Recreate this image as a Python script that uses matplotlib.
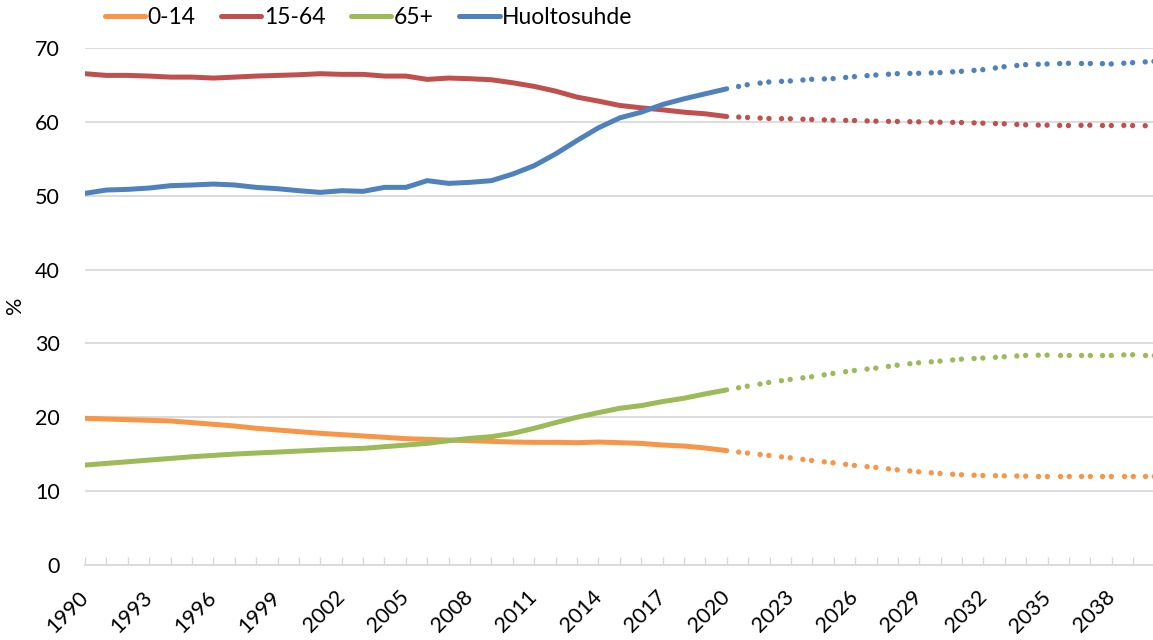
import matplotlib
matplotlib.use("Agg")
import matplotlib.pyplot as plt
from matplotlib.lines import Line2D

plt.rcParams['font.family'] = ['Lato', 'DejaVu Sans']
plt.rcParams['lines.scale_dashes'] = False

# ---- data ----
years_hist = list(range(1990, 2021))
years_proj = list(range(2020, 2041))

age_0_14_hist = [19.86, 19.77, 19.68, 19.59, 19.50, 19.28, 19.05, 18.82, 18.51, 18.28,
                 18.05, 17.83, 17.65, 17.47, 17.29, 17.10, 17.01, 16.92, 16.83, 16.74,
                 16.65, 16.61, 16.61, 16.56, 16.65, 16.56, 16.47, 16.24, 16.11, 15.84, 15.48]
age_15_64_hist = [66.52, 66.29, 66.29, 66.20, 66.06, 66.06, 65.93, 66.06, 66.20, 66.29,
                  66.38, 66.52, 66.43, 66.43, 66.20, 66.20, 65.75, 65.93, 65.84, 65.70,
                  65.29, 64.80, 64.16, 63.35, 62.81, 62.22, 61.90, 61.63, 61.31, 61.09, 60.72]
age_65_hist = [13.53, 13.76, 13.98, 14.21, 14.43, 14.66, 14.84, 15.02, 15.16, 15.29,
               15.43, 15.57, 15.70, 15.79, 16.02, 16.24, 16.47, 16.83, 17.15, 17.38,
               17.83, 18.51, 19.28, 20.00, 20.63, 21.22, 21.58, 22.13, 22.58, 23.17, 23.71]
huolto_hist = [50.32, 50.77, 50.86, 51.04, 51.36, 51.45, 51.58, 51.45, 51.13, 50.95,
               50.68, 50.45, 50.68, 50.59, 51.13, 51.13, 52.04, 51.67, 51.81, 52.04,
               52.94, 54.07, 55.66, 57.47, 59.19, 60.54, 61.31, 62.35, 63.12, 63.80, 64.48]

age_0_14_proj = [15.48, 15.14, 14.82, 14.50, 14.14, 13.83, 13.47, 13.20, 12.88, 12.61,
                 12.39, 12.21, 12.12, 12.07, 12.03, 12.03, 12.03, 12.03, 12.03, 12.03, 12.03]
age_15_64_proj = [60.72, 60.59, 60.45, 60.41, 60.32, 60.23, 60.18, 60.09, 60.05, 60.00,
                  59.95, 59.91, 59.82, 59.73, 59.59, 59.55, 59.50, 59.55, 59.55, 59.50, 59.46]
age_65_proj = [23.71, 24.23, 24.73, 25.14, 25.50, 25.95, 26.35, 26.67, 27.07, 27.39,
               27.61, 27.88, 28.02, 28.20, 28.38, 28.42, 28.42, 28.42, 28.42, 28.47, 28.47]
huolto_proj = [64.48, 65.05, 65.41, 65.54, 65.77, 65.86, 66.13, 66.35, 66.53, 66.58,
               66.67, 66.85, 67.07, 67.48, 67.75, 67.84, 67.93, 67.93, 67.84, 68.02, 68.20]

series_names = ['0-14', '15-64', '65+', 'Huoltosuhde']
series_colors = ['#F79646', '#C0504D', '#9BBB59', '#4F81BD']
hist_values = [age_0_14_hist, age_15_64_hist, age_65_hist, huolto_hist]
proj_values = [age_0_14_proj, age_15_64_proj, age_65_proj, huolto_proj]

y_ticks = [0, 10, 20, 30, 40, 50, 60, 70]
label_years = list(range(1990, 2041, 3))

# ---- figure ----
W, H = 1153, 640
fig = plt.figure(figsize=(W / 100, H / 100), dpi=100)
left_px, right_px, top_px, bottom_px = 85, 1154.6, 48, 565
ax = fig.add_axes([left_px / W, 1 - bottom_px / H, (right_px - left_px) / W, (bottom_px - top_px) / H])

lw = 3.6
# dotted pattern restarting per segment (two dots per year)
dot_on, gap1, gap2 = 0.01, 6.33, 30.0
period = dot_on * 2 + gap1 + gap2
dash_style = (period - 8.64, (dot_on, gap1, dot_on, gap2))

handles = []
for name, col, hv, pv in zip(series_names, series_colors, hist_values, proj_values):
    ax.plot(years_hist, hv, color=col, lw=lw, solid_capstyle='round',
            solid_joinstyle='round', label=name, zorder=3)
    handles.append(Line2D([0], [0], color=col, lw=lw, solid_capstyle='round'))
    for i in range(len(years_proj) - 1):
        ax.plot(years_proj[i:i + 2], pv[i:i + 2], color=col, lw=lw + 0.3,
                linestyle=dash_style, dash_capstyle='round', zorder=3)

ax.set_xlim(1990, 2040)
ax.set_ylim(0, 70)
ax.set_yticks(y_ticks)
ax.set_yticklabels([str(v) for v in y_ticks], fontsize=15.5)
ax.tick_params(axis='y', length=0, pad=18)

all_years = list(range(1990, 2041))
ax.set_xticks(all_years)
ax.set_xticklabels([str(y) if y in label_years else '' for y in all_years],
                   fontsize=15.5, rotation=45, ha='right', va='center',
                   rotation_mode='anchor')
ax.tick_params(axis='x', length=5.5, width=1, color='#d9d9d9', direction='in', pad=21)

ax.grid(axis='y', color='#d9d9d9', lw=1.3)
ax.set_axisbelow(True)
for s in ['left', 'right', 'top']:
    ax.spines[s].set_visible(False)
ax.spines['bottom'].set_color('#d9d9d9')
ax.spines['bottom'].set_linewidth(1.3)

fig.text(15 / W, 1 - 305 / H, '%', rotation=90, ha='center', va='center', fontsize=15.5)

fig.legend(handles, series_names, loc='center left', bbox_to_anchor=(104.5 / W, 1 - 17.5 / H),
           ncol=4, frameon=False, fontsize=16.5, handlelength=1.75, handletextpad=0.12,
           columnspacing=1.12, borderaxespad=0, borderpad=0)

fig.savefig('out.png', dpi=100)
